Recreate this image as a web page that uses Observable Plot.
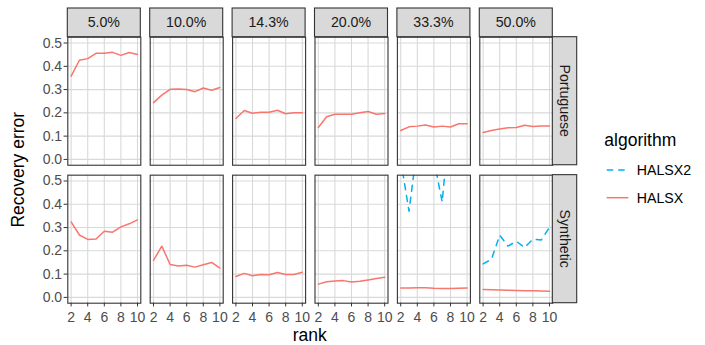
<!DOCTYPE html>
<html><head><meta charset="utf-8">
<script src="https://cdn.jsdelivr.net/npm/d3@7"></script>
<script src="https://cdn.jsdelivr.net/npm/@observablehq/plot@0.6"></script>
<style>body{margin:0;background:#fff} #chart{width:705px;height:345px}</style>
</head><body><div id="chart"></div>
<script>
const sparsities = ["5.0%","10.0%","14.3%","20.0%","33.3%","50.0%"];
const datasets = ["Portuguese","Synthetic"];
const algorithms = ["HALSX2","HALSX"];
const algorithmColors = ["#00B0F0","#F8766D"];
const ranks = [2,3,4,5,6,7,8,9,10];
const xTicks = [2,4,6,8,10];
const yTicks = [0,0.1,0.2,0.3,0.4,0.5];

// HALSX recovery error, one row per sparsity level
const halsxPortuguese = [
  [0.358,0.426,0.433,0.456,0.456,0.460,0.447,0.459,0.451],
  [0.244,0.276,0.301,0.303,0.300,0.291,0.307,0.297,0.309],
  [0.176,0.210,0.198,0.203,0.203,0.211,0.196,0.200,0.200],
  [0.137,0.183,0.194,0.194,0.194,0.200,0.206,0.194,0.197],
  [0.124,0.140,0.143,0.148,0.139,0.143,0.139,0.153,0.153],
  [0.116,0.124,0.131,0.136,0.137,0.147,0.141,0.144,0.144]
];
const halsxSynthetic = [
  [0.324,0.268,0.249,0.251,0.284,0.280,0.303,0.316,0.333],
  [0.159,0.220,0.141,0.135,0.138,0.130,0.140,0.150,0.126],
  [0.090,0.103,0.093,0.098,0.097,0.107,0.098,0.098,0.108],
  [0.057,0.067,0.070,0.072,0.066,0.069,0.075,0.081,0.086],
  [0.040,0.040,0.041,0.041,0.039,0.038,0.038,0.039,0.040],
  [0.034,0.033,0.032,0.031,0.030,0.029,0.028,0.027,0.026]
];
// HALSX2 (visible only in the synthetic 33.3% and 50.0% panels; values above the axis are clipped)
const halsx2Synthetic333 = [0.59,0.37,0.65,0.66,0.59,0.41,0.80,0.78,0.75];
const halsx2Synthetic500 = [0.144,0.163,0.267,0.220,0.241,0.214,0.250,0.246,0.301];

const rows = [];
function addSeries(values, sparsity, dataset, algorithm) {
  values.forEach((v, i) => rows.push({rank: ranks[i], value: v, sparsity, dataset, algorithm}));
}
sparsities.forEach((s, j) => {
  addSeries(halsxPortuguese[j], s, "Portuguese", "HALSX");
  addSeries(halsxSynthetic[j], s, "Synthetic", "HALSX");
});
addSeries(halsx2Synthetic333, "33.3%", "Synthetic", "HALSX2");
addSeries(halsx2Synthetic500, "50.0%", "Synthetic", "HALSX2");

const W = 705, H = 345, mL = 67.3, mR = 152.7, mT = 36.7, mB = 42.3;
const font = "Liberation Sans, Arial, Helvetica, sans-serif";
const blue = algorithmColors[0], red = algorithmColors[1];

const chart = Plot.plot({
  width: W, height: H,
  marginLeft: mL, marginRight: mR, marginTop: mT, marginBottom: mB,
  style: {fontFamily: font, fontSize: "14px", background: "#fff", overflow: "visible"},
  x: {domain: [1.6, 10.4]},
  y: {domain: [-0.025, 0.525]},
  fx: {domain: sparsities, paddingInner: 0.114, paddingOuter: 0, round: false, axis: null, label: null},
  fy: {domain: datasets, paddingInner: 0.072, paddingOuter: 0, round: false, axis: null, label: null},
  marks: [
    Plot.gridX(xTicks, {stroke: "#d9d9d9", strokeOpacity: 1, strokeWidth: 1.1}),
    Plot.gridY(yTicks, {stroke: "#d9d9d9", strokeOpacity: 1, strokeWidth: 1.1}),
    Plot.line(rows.filter(d => d.algorithm === "HALSX"), {
      x: "rank", y: "value", fx: "sparsity", fy: "dataset", z: null,
      stroke: red, strokeWidth: 1.5, clip: true
    }),
    Plot.line(rows.filter(d => d.algorithm === "HALSX2"), {
      x: "rank", y: "value", fx: "sparsity", fy: "dataset", z: null,
      stroke: blue, strokeWidth: 1.5, strokeDasharray: "6,6", clip: true
    }),
    Plot.frame({stroke: "#333333", strokeWidth: 1.1}),
    Plot.axisX(xTicks, {tickSize: 3.7, tickPadding: 5, fontSize: 14, stroke: "#333333", fill: "#4D4D4D", label: null}),
    Plot.axisY(yTicks, {tickSize: 3.7, tickPadding: 2, fontSize: 14, stroke: "#333333", fill: "#4D4D4D", label: null, tickFormat: d3.format(".1f")})
  ]
});
document.getElementById("chart").appendChild(chart);

// strips, titles and legend
const svg = d3.select(chart);
const fxS = chart.scale("fx"), fyS = chart.scale("fy");
const bx = d3.scaleBand(sparsities, [mL, W - mR]).paddingInner(0.114).paddingOuter(0);
const by = d3.scaleBand(datasets, [mT, H - mB]).paddingInner(0.072).paddingOuter(0);
const fxPos = v => (fxS && fxS.apply) ? fxS.apply(v) : bx(v);
const fyPos = v => (fyS && fyS.apply) ? fyS.apply(v) : by(v);
const bwX = (fxS && fxS.bandwidth) || bx.bandwidth();
const bwY = (fyS && fyS.bandwidth) || by.bandwidth();
const stripH = 28.7, stripW = 24.4;
const g = svg.append("g").attr("text-anchor", "start");
sparsities.forEach(s => {
  const x = fxPos(s);
  g.append("rect").attr("x", x).attr("y", mT - stripH).attr("width", bwX).attr("height", stripH)
    .attr("fill", "#D9D9D9").attr("stroke", "#333333").attr("stroke-width", 1.1);
  g.append("text").attr("x", x + bwX / 2).attr("y", mT - stripH / 2)
    .attr("text-anchor", "middle").attr("dominant-baseline", "central")
    .attr("fill", "#1A1A1A").style("font-size", "14.2px").style("font-family", font).text(s);
});
const rx = W - mR;
datasets.forEach(d => {
  const y = fyPos(d);
  g.append("rect").attr("x", rx).attr("y", y).attr("width", stripW).attr("height", bwY)
    .attr("fill", "#D9D9D9").attr("stroke", "#333333").attr("stroke-width", 1.1);
  g.append("text").attr("transform", `translate(${rx + stripW / 2},${y + bwY / 2}) rotate(90)`)
    .attr("text-anchor", "middle").attr("dominant-baseline", "central")
    .attr("fill", "#1A1A1A").style("font-size", "14.2px").style("font-family", font).text(d);
});
g.append("text").attr("x", (mL + W - mR) / 2).attr("y", 335).attr("text-anchor", "middle")
  .attr("dominant-baseline", "central").attr("fill", "#000").style("font-size", "17.5px").style("font-family", font).text("rank");
g.append("text").attr("transform", `translate(18,${(mT + H - mB) / 2}) rotate(-90)`).attr("text-anchor", "middle")
  .attr("dominant-baseline", "central").attr("fill", "#000").style("font-size", "17.5px").style("font-family", font).text("Recovery error");
// legend
g.append("text").attr("x", 604.3).attr("y", 139.5).attr("text-anchor", "start").attr("dominant-baseline", "central").attr("fill", "#000")
  .style("font-size", "17.5px").style("font-family", font).text("algorithm");
algorithms.forEach((a, i) => {
  const y = 170 + i * 27.7;
  g.append("line").attr("x1", 606.7).attr("x2", 628.3).attr("y1", y).attr("y2", y)
    .attr("stroke", algorithmColors[i]).attr("stroke-width", 1.5)
    .attr("stroke-dasharray", a === "HALSX2" ? "6.5,5" : null);
  g.append("text").attr("x", 636.7).attr("y", y).attr("text-anchor", "start").attr("dominant-baseline", "central").attr("fill", "#000")
    .style("font-size", "14.2px").style("font-family", font).text(a);
});
</script>
</body></html>
